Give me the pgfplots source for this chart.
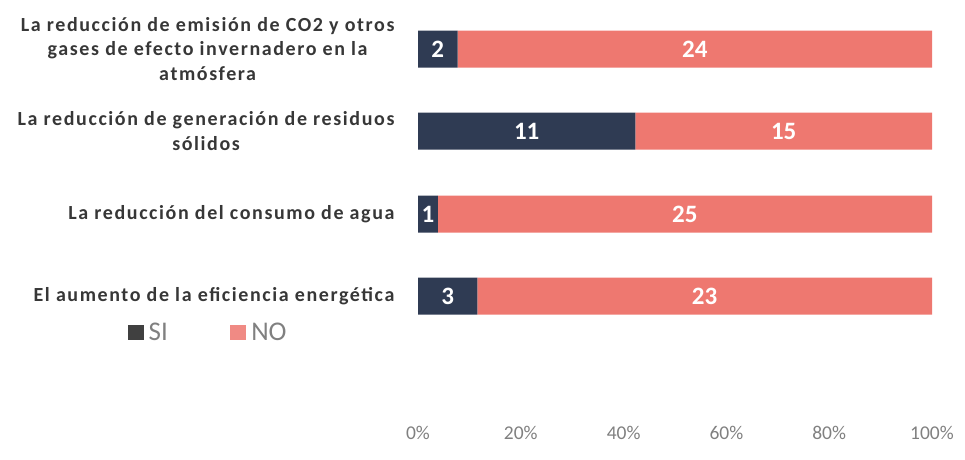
\documentclass[border=0pt]{standalone}
\usepackage{pgfplots}
\pgfplotsset{compat=1.18}
\usepackage{fontspec}
\setmainfont{Carlito}
\definecolor{si}{RGB}{47,59,83}
\definecolor{no}{RGB}{238,120,112}
\definecolor{lgsi}{RGB}{64,64,64}
\definecolor{lgno}{RGB}{240,138,132}
\definecolor{lab}{RGB}{55,55,55}
\definecolor{tickc}{RGB}{128,128,128}
\begin{document}
\begin{tikzpicture}
\useasboundingbox (0,0) rectangle (965pt,459pt);
\begin{axis}[
  at={(418pt,39pt)}, anchor=south west,
  scale only axis, width=514pt, height=410pt,
  xmin=0, xmax=26, ymin=-420, ymax=-10,
  xbar stacked, bar width=37,
  clip=false,
  axis x line*=bottom, axis y line*=left,
  axis line style={draw=none},
  major tick length=0pt,
  xtick={0,5.2,10.4,15.6,20.8,26},
  xticklabels={0\%,20\%,40\%,60\%,80\%,100\%},
  xticklabel style={font=\fontsize{19.5}{21}\selectfont, text=tickc, yshift=-3pt},
  ytick={-296,-214,-131,-49},
  yticklabels={{El aumento de la eficiencia energética},
               {La reducción del consumo de agua},
               {La reducción de generación de residuos\\sólidos},
               {La reducción de emisión de CO2 y otros\\gases de efecto invernadero en la\\atmósfera}},
  yticklabel style={font=\bfseries\addfontfeature{LetterSpace=8}\fontsize{20}{24.5}\selectfont, text=lab, align=center, xshift=-20pt},
  legend style={at={(axis cs:-10.6,-332)}, anchor=center, draw=none, fill=none,
    font=\fontsize{27}{30}\selectfont, text=tickc,
    /tikz/every even column/.append style={column sep=60pt},
    nodes={inner xsep=2.5pt, inner ysep=1pt}},
  legend columns=2,
  legend image code/.code={\fill[#1] (0pt,-7pt) rectangle (15pt,7pt);},
]
\addplot[fill=si, draw=none, forget plot] coordinates {(2,-49) (11,-131) (1,-214) (3,-296)};
\addplot[fill=no, draw=none, forget plot] coordinates {(24,-49) (15,-131) (25,-214) (23,-296)};
\addlegendimage{lgsi}
\addlegendentry{\hspace{3pt}SI}
\addlegendimage{lgno}
\addlegendentry{\hspace{3pt}NO}
\end{axis}
\begin{axis}[
  at={(418pt,39pt)}, anchor=south west,
  scale only axis, width=514pt, height=410pt,
  xmin=0, xmax=26, ymin=-420, ymax=-10,
  hide axis, clip=false,
]
\addplot[draw=none, mark=none, nodes near coords, point meta=explicit symbolic,
  every node near coord/.style={anchor=center, text=white, font=\bfseries\fontsize{25}{26}\selectfont}]
  coordinates {(1,-49)[2] (14,-49)[24] (5.5,-131)[11] (18.5,-131)[15]
               (0.5,-214)[1] (13.5,-214)[25] (1.5,-296)[3] (14.5,-296)[23]};
\end{axis}
\end{tikzpicture}
\end{document}
